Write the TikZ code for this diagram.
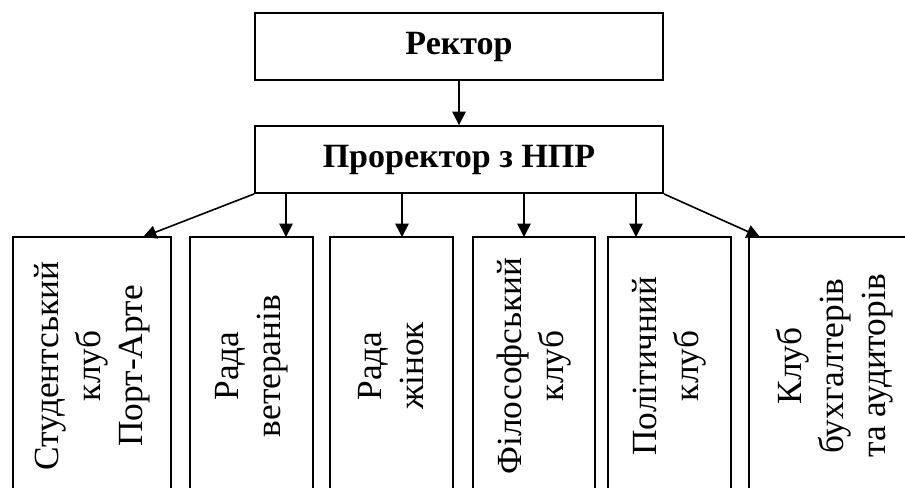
\documentclass[tikz,border=0pt]{standalone}
\usepackage{fontspec}
\setmainfont{Liberation Serif}
\usetikzlibrary{arrows.meta}
\begin{document}
\begin{tikzpicture}[x=0.75pt,y=-0.75pt,
  lw/.style={line width=1.4pt},
  topbox/.style={draw,lw,minimum width=306pt,minimum height=50.25pt,inner sep=0pt,
    font=\fontsize{25.5}{31.5}\selectfont\bfseries},
  unitbox/.style={draw,lw,rotate=90,minimum width=193.5pt,inner sep=0pt,align=center,
    font=\fontsize{26.5}{31.5}\selectfont},
  arr/.style={line width=1.2pt,-{Triangle[length=10pt,width=10pt]}}]
\useasboundingbox (0,0) rectangle (905,487);
\clip (0,0) rectangle (905,487);
\node[topbox] (rek) at (459,46.5) {Ректор};
\node[topbox] (pro) at (459,159.5) {Проректор з НПР};
\node[unitbox,minimum height=118.5pt] (b1) at (92,366) {Студентський\\клуб\\Порт-Арте};
\node[unitbox,minimum height=92.25pt] (b2) at (251.5,366) {Рада\\ветеранів};
\node[unitbox,minimum height=92.25pt] (b3) at (391.5,366) {Рада\\жінок};
\node[unitbox,minimum height=91.5pt] (b4) at (534,366) {Філософський\\клуб};
\node[unitbox,minimum height=92.25pt] (b5) at (669.5,366) {Політичний\\клуб};
\node[unitbox,minimum height=128.25pt] (b6) at (834.5,366) {Клуб\\бухгалтерів\\та аудиторів};
\coordinate (t1) at (143,237);
\coordinate (t2) at (286,237);
\coordinate (t3) at (402,237);
\coordinate (t4) at (524,237);
\coordinate (t5) at (636,237);
\coordinate (t6) at (760,237);
\draw[arr] (rek.south) -- (pro.north);
\draw[arr] (pro.south west) -- (t1);
\draw[arr] (pro.south -| t2) -- (t2);
\draw[arr] (pro.south -| t3) -- (t3);
\draw[arr] (pro.south -| t4) -- (t4);
\draw[arr] (pro.south -| t5) -- (t5);
\draw[arr] (pro.south east) -- (t6);
\end{tikzpicture}
\end{document}
